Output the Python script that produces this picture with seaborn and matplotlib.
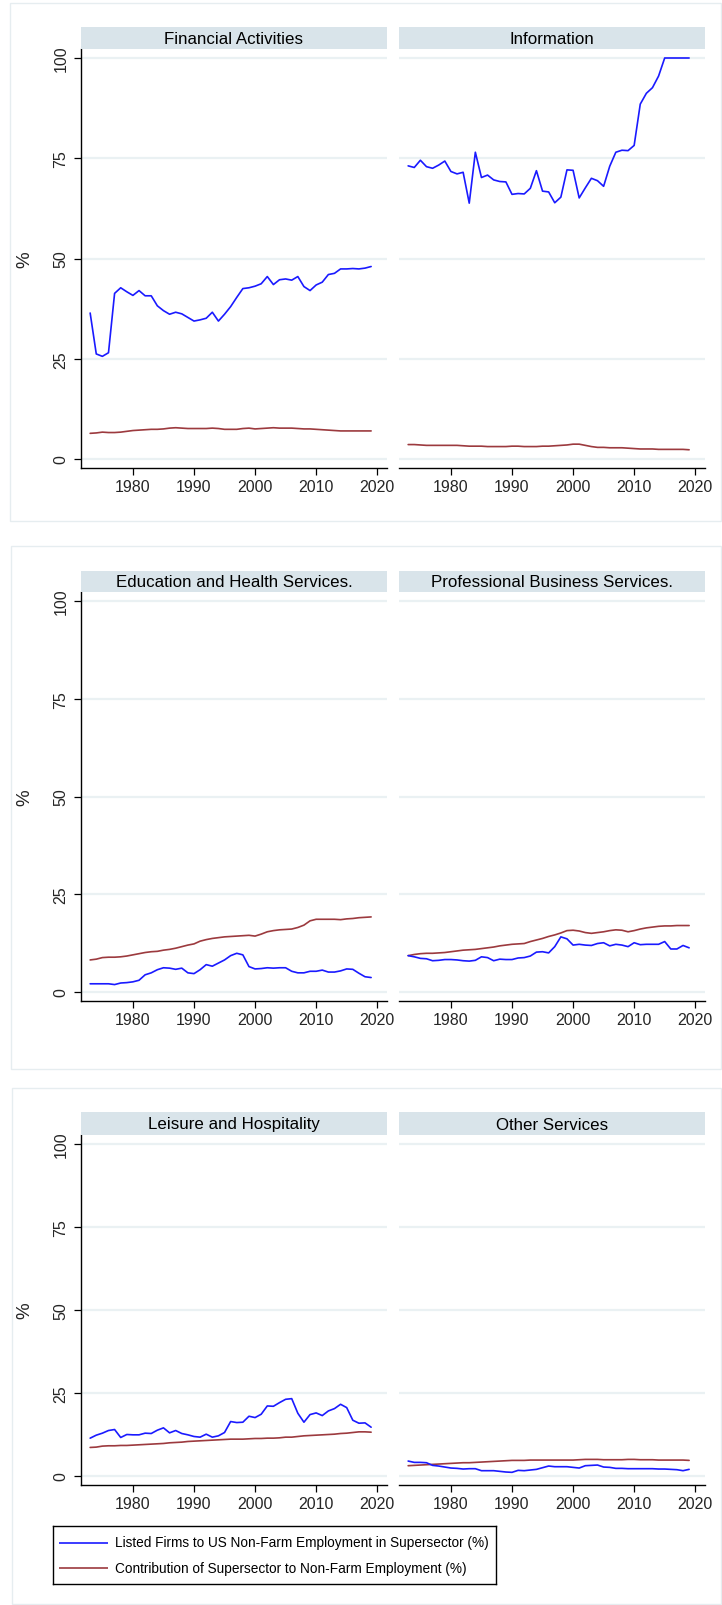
import numpy as np
import pandas as pd
import matplotlib
matplotlib.use("Agg")
import matplotlib.pyplot as plt
from matplotlib.patches import Rectangle
from matplotlib import font_manager
import seaborn as sns

years = list(range(1973, 2020))

sectors = [
    "Financial Activities",
    "Information",
    "Education and Health Services.",
    "Professional Business Services.",
    "Leisure and Hospitality",
    "Other Services",
]

series_names = [
    "Listed Firms to US Non-Farm Employment in Supersector (%)",
    "Contribution of Supersector to Non-Farm Employment (%)",
]

fin_listed = [36.4, 26.2, 25.6, 26.5, 41.3, 42.7, 41.7, 40.8, 42.0, 40.7, 40.7, 38.2,
              37.0, 36.1, 36.6, 36.2, 35.3, 34.4, 34.7, 35.1, 36.6, 34.4, 36.1, 38.0,
              40.3, 42.5, 42.7, 43.1, 43.7, 45.5, 43.5, 44.7, 44.9, 44.6, 45.5, 43.0,
              42.0, 43.4, 44.1, 46.0, 46.3, 47.4, 47.4, 47.5, 47.4, 47.6, 48.0]
fin_share = [6.4, 6.5, 6.7, 6.6, 6.6, 6.7, 6.9, 7.1, 7.2, 7.3, 7.4, 7.4,
             7.5, 7.7, 7.8, 7.7, 7.6, 7.6, 7.6, 7.6, 7.7, 7.6, 7.4, 7.4,
             7.4, 7.6, 7.7, 7.5, 7.6, 7.7, 7.8, 7.7, 7.7, 7.7, 7.6, 7.5,
             7.5, 7.4, 7.3, 7.2, 7.1, 7.0, 7.0, 7.0, 7.0, 7.0, 7.0]

info_listed = [73.1, 72.7, 74.5, 72.9, 72.5, 73.3, 74.3, 71.7, 71.1, 71.5, 63.8, 76.5,
               70.2, 70.8, 69.6, 69.2, 69.1, 66.0, 66.2, 66.1, 67.5, 71.9, 66.8, 66.6,
               63.9, 65.3, 72.1, 72.0, 65.1, 67.6, 70.0, 69.4, 68.0, 73.0, 76.5, 77.0,
               76.9, 78.2, 88.5, 91.2, 92.6, 95.5, 100.0, 100.0, 100.0, 100.0, 100.0]
info_share = [3.6, 3.6, 3.5, 3.4, 3.4, 3.4, 3.4, 3.4, 3.4, 3.3, 3.2, 3.2,
              3.2, 3.1, 3.1, 3.1, 3.1, 3.2, 3.2, 3.1, 3.1, 3.1, 3.2, 3.2,
              3.3, 3.4, 3.5, 3.7, 3.7, 3.4, 3.1, 2.9, 2.9, 2.8, 2.8, 2.8,
              2.7, 2.6, 2.5, 2.5, 2.5, 2.4, 2.4, 2.4, 2.4, 2.4, 2.3]

edu_listed = [2.1, 2.1, 2.1, 2.1, 1.9, 2.3, 2.4, 2.6, 3.0, 4.4, 4.9, 5.7,
              6.2, 6.1, 5.8, 6.1, 4.9, 4.7, 5.7, 7.0, 6.6, 7.4, 8.2, 9.3,
              9.9, 9.5, 6.5, 5.9, 6.0, 6.2, 6.1, 6.2, 6.2, 5.3, 4.9, 4.9,
              5.3, 5.3, 5.6, 5.1, 5.1, 5.4, 5.9, 5.8, 4.8, 3.9, 3.7]
edu_share = [8.2, 8.4, 8.8, 8.9, 8.9, 9.0, 9.2, 9.5, 9.8, 10.1, 10.3, 10.4,
             10.7, 10.9, 11.2, 11.6, 12.0, 12.3, 13.0, 13.4, 13.7, 13.9, 14.1, 14.2,
             14.3, 14.4, 14.5, 14.3, 14.8, 15.4, 15.7, 15.9, 16.0, 16.1, 16.5, 17.1,
             18.2, 18.6, 18.6, 18.6, 18.6, 18.5, 18.7, 18.8, 19.0, 19.1, 19.2]

prof_listed = [9.3, 9.0, 8.6, 8.5, 8.0, 8.1, 8.3, 8.3, 8.2, 8.0, 7.9, 8.1,
               9.0, 8.8, 8.0, 8.4, 8.3, 8.3, 8.7, 8.8, 9.2, 10.2, 10.3, 10.0,
               11.6, 14.1, 13.6, 12.0, 12.2, 12.0, 11.9, 12.4, 12.6, 11.8, 12.2, 12.0,
               11.6, 12.6, 12.1, 12.2, 12.2, 12.2, 12.9, 11.0, 11.0, 11.9, 11.3]
prof_share = [9.3, 9.6, 9.8, 9.9, 9.9, 10.0, 10.1, 10.3, 10.5, 10.7, 10.8, 10.9,
              11.1, 11.3, 11.5, 11.8, 12.0, 12.2, 12.3, 12.4, 12.9, 13.3, 13.7, 14.2,
              14.6, 15.1, 15.7, 15.8, 15.6, 15.2, 15.0, 15.2, 15.4, 15.7, 15.9, 15.8,
              15.4, 15.7, 16.1, 16.4, 16.6, 16.8, 16.9, 16.9, 17.0, 17.0, 17.0]

leis_listed = [11.4, 12.3, 12.9, 13.7, 14.0, 11.6, 12.5, 12.4, 12.4, 12.9, 12.8, 13.8,
               14.5, 13.0, 13.7, 12.8, 12.4, 11.9, 11.7, 12.6, 11.7, 12.1, 13.1, 16.4,
               16.1, 16.2, 18.0, 17.6, 18.6, 21.1, 21.0, 22.1, 23.1, 23.3, 18.9, 16.2,
               18.5, 19.0, 18.2, 19.6, 20.3, 21.6, 20.6, 16.8, 15.9, 16.0, 14.7]
leis_share = [8.6, 8.7, 9.0, 9.1, 9.1, 9.2, 9.2, 9.3, 9.4, 9.5, 9.6, 9.7,
              9.8, 10.0, 10.1, 10.2, 10.4, 10.5, 10.6, 10.7, 10.8, 10.9, 11.0, 11.1,
              11.1, 11.1, 11.2, 11.3, 11.3, 11.4, 11.4, 11.5, 11.7, 11.7, 11.9, 12.1,
              12.2, 12.3, 12.4, 12.5, 12.6, 12.8, 12.9, 13.1, 13.3, 13.3, 13.2]

oth_listed = [4.5, 4.1, 4.1, 4.0, 3.2, 3.0, 2.7, 2.4, 2.3, 2.1, 2.2, 2.2,
              1.6, 1.6, 1.6, 1.4, 1.2, 1.1, 1.7, 1.6, 1.8, 2.0, 2.5, 3.0,
              2.8, 2.8, 2.8, 2.6, 2.4, 3.1, 3.2, 3.3, 2.7, 2.6, 2.3, 2.3,
              2.2, 2.2, 2.2, 2.2, 2.2, 2.1, 2.1, 2.0, 1.9, 1.6, 2.0]
oth_share = [3.1, 3.2, 3.3, 3.4, 3.5, 3.6, 3.7, 3.8, 3.9, 4.0, 4.0, 4.1,
             4.2, 4.3, 4.4, 4.5, 4.6, 4.7, 4.7, 4.7, 4.8, 4.8, 4.8, 4.8,
             4.8, 4.8, 4.8, 4.8, 4.9, 5.0, 5.0, 5.0, 4.9, 4.9, 4.9, 4.9,
             5.0, 5.0, 4.9, 4.9, 4.9, 4.8, 4.8, 4.8, 4.8, 4.8, 4.7]

y_ticks = [0, 25, 50, 75, 100]
x_ticks = [1980, 1990, 2000, 2010, 2020]

listed = [fin_listed, info_listed, edu_listed, prof_listed, leis_listed, oth_listed]
share = [fin_share, info_share, edu_share, prof_share, leis_share, oth_share]

frames = []
for name, a, b in zip(sectors, listed, share):
    frames.append(pd.DataFrame({"year": years, "value": a, "series": series_names[0], "sector": name}))
    frames.append(pd.DataFrame({"year": years, "value": b, "series": series_names[1], "sector": name}))
df = pd.concat(frames, ignore_index=True)

BLUE = "#1a1aff"
RED = "#9c3a3e"
palette = {series_names[0]: BLUE, series_names[1]: RED}

sns.set_style("white")
plt.rcParams["font.family"] = ["Liberation Sans", "DejaVu Sans"]

W, H = 722, 1606
fig = plt.figure(figsize=(W / 100, H / 100), dpi=100)
fig.patch.set_facecolor("white")


def fbox(x0, y0, x1, y1):
    return [x0 / W, 1 - y1 / H, (x1 - x0) / W, (y1 - y0) / H]


# one row per combined graph: (strip top, axes top, y=100 px, y=0 px, axes bottom, border box)
rows = [
    (28, 50, 59, 460, 469, (10, 4, 721, 522)),
    (572, 593, 602, 993, 1002, (11, 547, 721, 1070)),
    (1113, 1136, 1145, 1477, 1486, (12, 1089, 721, 1605)),
]
cols = [(81, 387), (399, 705)]
xlim = (1971.5, 2021.6)
GRID = "#eaf1f3"
STRIP = "#d9e4ea"
BORDER = "#e6edf0"

for r, (s_top, a_top, y100, y0, a_bot, border) in enumerate(rows):
    bx0, by0, bx1, by1 = border
    fig.patches.append(Rectangle((bx0 / W, 1 - by1 / H), (bx1 - bx0) / W, (by1 - by0) / H,
                                 transform=fig.transFigure, fill=False,
                                 edgecolor=BORDER, linewidth=1.0, zorder=0))
    ppu = (y0 - y100) / 100.0
    ylim = (-(a_bot - y0) / ppu, 100 + (y100 - a_top) / ppu)
    for c, (x0, x1) in enumerate(cols):
        name = sectors[r * 2 + c]
        ax = fig.add_axes(fbox(x0, a_top, x1, a_bot))
        ax.set_facecolor("white")
        sub = df[df["sector"] == name]
        sns.lineplot(data=sub, x="year", y="value", hue="series", palette=palette,
                     hue_order=series_names[::-1], linewidth=1.2, legend=False, ax=ax)
        ax.set_xlim(*xlim)
        ax.set_ylim(*ylim)
        ax.set_yticks(y_ticks)
        ax.set_xticks(x_ticks)
        for v in y_ticks:
            ax.axhline(v, color=GRID, linewidth=1.6, zorder=0)
        for sp in ["top", "right"]:
            ax.spines[sp].set_visible(False)
        ax.spines["bottom"].set_color("black")
        ax.spines["bottom"].set_linewidth(1.0)
        ax.tick_params(axis="x", direction="out", length=5, width=0.9, color="black",
                       pad=3, labelsize=11.5, bottom=True)
        ax.set_xlabel("")
        if c == 0:
            ax.spines["left"].set_color("black")
            ax.spines["left"].set_linewidth(1.0)
            ax.tick_params(axis="y", direction="out", length=5, width=0.9, color="black",
                           pad=4, labelsize=11.5, left=True)
            for lab in ax.get_yticklabels():
                lab.set_rotation(90)
                lab.set_va("center")
            ax.set_ylabel("%", fontsize=13.5, rotation=90)
            frac50 = (50 - ylim[0]) / (ylim[1] - ylim[0])
            ax.yaxis.set_label_coords(-(x0 - 33) / (x1 - x0), frac50)
        else:
            ax.spines["left"].set_visible(False)
            ax.tick_params(axis="y", left=False, labelleft=False)
            ax.set_ylabel("")
        # facet strip
        fig.patches.append(Rectangle((x0 / W, 1 - a_top / H), (x1 - x0) / W, (a_top - s_top) / H,
                                     transform=fig.transFigure, facecolor=STRIP,
                                     edgecolor="none", zorder=1))
        fig.text((x0 + x1) / 2 / W, 1 - (s_top + a_top) / 2 / H - 0.5 / H, name, ha="center",
                 va="center", fontsize=12.2, color="black")

# shared legend, drawn in a pixel-unit box
LX0, LY0, LX1, LY1 = 53, 1527, 496, 1585
lax = fig.add_axes(fbox(LX0, LY0, LX1, LY1))
lax.set_xlim(0, LX1 - LX0)
lax.set_ylim(LY1 - LY0, 0)
lax.set_xticks([])
lax.set_yticks([])
for sp in lax.spines.values():
    sp.set_color("black")
    sp.set_linewidth(1.0)

try:
    font_manager.findfont("Liberation Sans Narrow", fallback_to_default=False)
    leg_family = "Liberation Sans Narrow"
    target_w = 358.0
except Exception:
    leg_family = "Liberation Sans"
    target_w = 372.0

rows_y = [16.5, 42.0]
texts = []
for yy, label, colr in zip(rows_y, series_names, [BLUE, RED]):
    lax.plot([6, 55], [yy, yy], color=colr, linewidth=1.2, solid_capstyle="butt")
    texts.append(lax.text(62, yy, label, ha="left", va="center", fontsize=13,
                          family=leg_family, color="black"))

# scale the legend text so the first entry spans the box
fig.canvas.draw()
renderer = fig.canvas.get_renderer()
w0 = texts[0].get_window_extent(renderer).width
scale = target_w / w0
for t in texts:
    t.set_fontsize(13 * scale)

fig.savefig("out.png", dpi=100, facecolor="white")
